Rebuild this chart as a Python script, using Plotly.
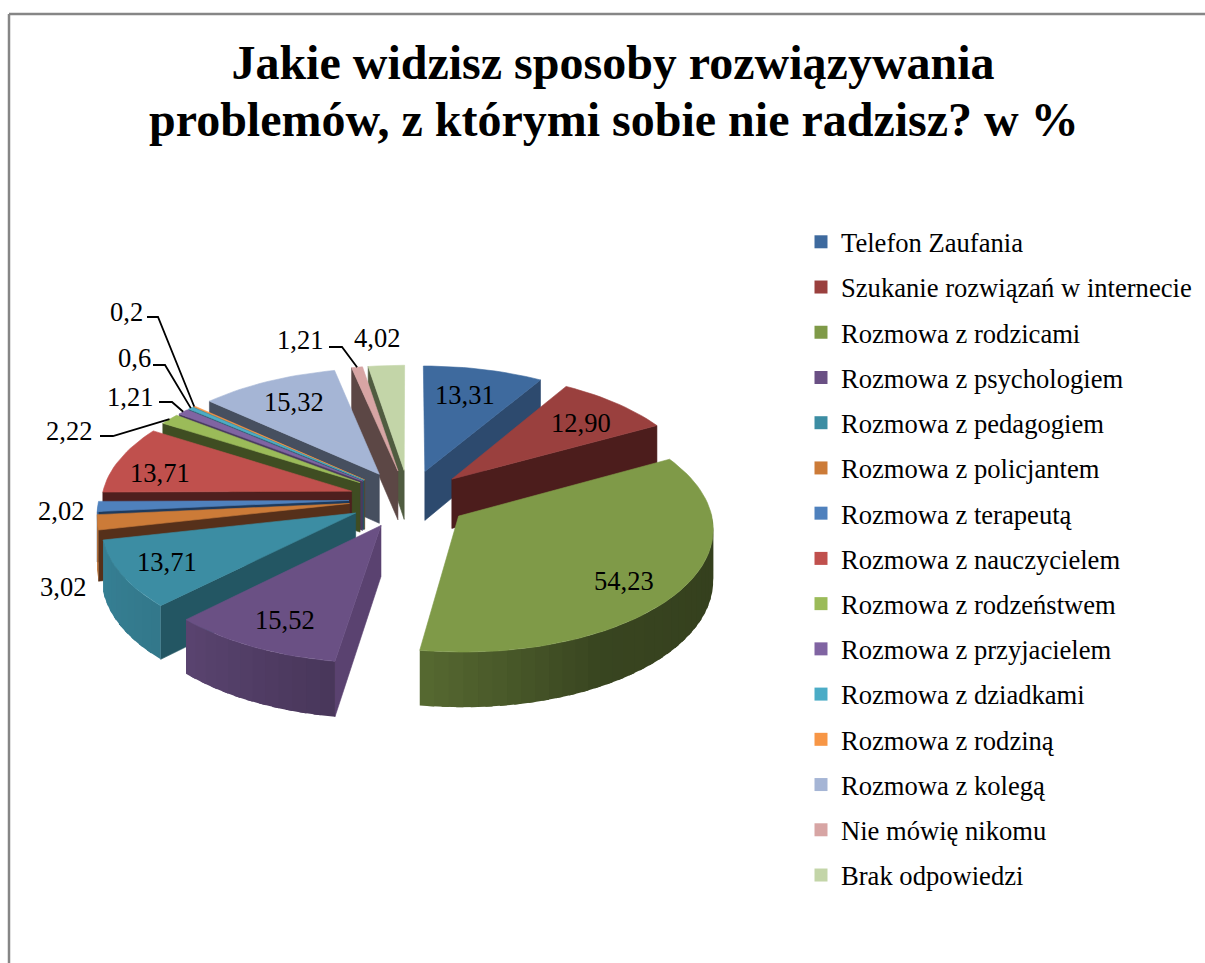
import math
import plotly.graph_objects as go

# ---- data ----
CATEGORIES = ["Telefon Zaufania", "Szukanie rozwiązań w internecie", "Rozmowa z rodzicami",
              "Rozmowa z psychologiem", "Rozmowa z pedagogiem", "Rozmowa z policjantem",
              "Rozmowa z terapeutą", "Rozmowa z nauczycielem", "Rozmowa z rodzeństwem",
              "Rozmowa z przyjacielem", "Rozmowa z dziadkami", "Rozmowa z rodziną",
              "Rozmowa z kolegą", "Nie mówię nikomu", "Brak odpowiedzi"]
VALUES = [13.31, 12.90, 54.23, 15.52, 13.71, 3.02, 2.02, 13.71, 2.22, 1.21, 0.6, 0.2, 15.32, 1.21, 4.02]
VALUE_TEXT = ["13,31", "12,90", "54,23", "15,52", "13,71", "3,02", "2,02", "13,71",
              "2,22", "1,21", "0,6", "0,2", "15,32", "1,21", "4,02"]
TITLE_LINE_1 = "Jakie widzisz sposoby rozwiązywania"
TITLE_LINE_2 = "problemów, z którymi sobie nie radzisz? w %"

# ---- styles ----
TOP_COLORS = ["#3E6A9E", "#9A403E", "#7F9A48", "#6A5084", "#3C8DA3", "#CC7B38", "#4F81BD", "#C0504D",
              "#9BBB59", "#8064A2", "#4BACC6", "#F79646", "#A5B5D5", "#D7A5A4", "#C3D5A8"]
FACE_COLORS = ["#2D4A6E", "#4C1D1C", "#34391B", "#5A4270", "#235663", "#56301A", "#1E3A5C", "#4E1F1E",
               "#3F4D22", "#4A3A60", "#235663", "#6E4318", "#464F5F", "#5C4745", "#505C40"]
# label centres in page pixels
LABEL_XY = [(465, 395), (581, 423), (624, 581), (285, 620), (167, 562), (63, 587), (61, 511), (160, 473),
            (69, 431), (130, 397), (134, 358), (126, 312), (294, 402), (300, 340), (377, 338)]
# leader-line elbows in page pixels, ending on the slice rim
LEADERS = {8: [(100, 436), (113, 436)], 9: [(159, 402), (172, 402)], 10: [(153, 365), (165, 365)],
           11: [(147, 317), (158, 317)], 13: [(329, 347), (342, 347)]}

CX, CY, R, EXPLODE, TILT, PERSP, DEPTH = 409, 499, 250, 60, 0.487, 0.0915, 50
SHADE_STOPS = [(0, .42), (110, .42), (150, .45), (188, .68), (225, .85), (260, .92), (360, .92)]


def project(X, Y, z=0.0):
    s = 1 + PERSP * Y / R
    return CX + X * s, CY + Y * TILT * s + z * DEPTH * s


def polar(theta):
    t = math.radians(theta)
    return math.sin(t), -math.cos(t)


def shade_of(theta):
    for (a, fa), (b, fb) in zip(SHADE_STOPS, SHADE_STOPS[1:]):
        if a <= theta <= b:
            return fa + (fb - fa) * (theta - a) / (b - a)
    return .9


def scaled(hexcol, f):
    r, g, b = (int(hexcol[i:i + 2], 16) for i in (1, 3, 5))
    return f"rgb({int(r * f)},{int(g * f)},{int(b * f)})"


fig = go.Figure()

# legend entries, in category order
for name, col in zip(CATEGORIES, TOP_COLORS):
    fig.add_trace(go.Scatter(x=[None], y=[None], mode="markers", name=name, legendgroup=name,
                             marker=dict(symbol="square", size=13, color=col), hoverinfo="skip"))

total = sum(VALUES)
wedges, acc = [], 0.0
for i, v in enumerate(VALUES):
    a0 = acc / total * 360
    acc += v
    a1 = acc / total * 360
    wedges.append((i, a0, a1))


def poly(pts, color, group, hover=None, width=0.6):
    fig.add_trace(go.Scatter(x=[p[0] for p in pts] + [pts[0][0]], y=[p[1] for p in pts] + [pts[0][1]],
                             mode="lines", fill="toself", fillcolor=color,
                             line=dict(color=color, width=width), legendgroup=group, showlegend=False,
                             hoverinfo="text" if hover else "skip", text=hover))


for i, a0, a1 in sorted(wedges, key=lambda w: polar((w[1] + w[2]) / 2)[1]):
    mid = (a0 + a1) / 2
    ex, ey = (EXPLODE * c for c in polar(mid))
    name = CATEGORIES[i]

    def rim(theta):
        u, w = polar(theta)
        return ex + R * u, ey + R * w

    # cut faces
    if math.sin(math.radians(a0)) < -0.001:
        X, Y = rim(a0)
        poly([project(ex, ey), project(X, Y), project(X, Y, 1), project(ex, ey, 1)], FACE_COLORS[i], name)
    if math.sin(math.radians(a1)) > 0.001:
        X, Y = rim(a1)
        poly([project(ex, ey), project(X, Y), project(X, Y, 1), project(ex, ey, 1)], FACE_COLORS[i], name)
    # outer rim, in overlapping shaded strips so no seams show
    n = max(1, int((a1 - a0) / 3))
    for k in range(n):
        t0 = a0 + (a1 - a0) * k / n
        t1 = min(a1, a0 + (a1 - a0) * (k + 1) / n + 1.5)
        if polar((t0 + t1) / 2)[1] <= 0:
            continue
        P0, P1 = rim(t0), rim(t1)
        poly([project(*P0), project(*P1), project(*P1, 1), project(*P0, 1)],
             scaled(TOP_COLORS[i], shade_of(a0 + (a1 - a0) * (k + .5) / n)), name, width=0)
    # top face
    m = max(2, int((a1 - a0) / 2))
    top = [project(ex, ey)] + [project(*rim(a0 + (a1 - a0) * k / m)) for k in range(m + 1)]
    poly(top, TOP_COLORS[i], name, hover=f"{name}: {VALUE_TEXT[i]}")

# leader lines
shapes = []
for i, elbow in LEADERS.items():
    _, a0, a1 = wedges[i]
    mid = (a0 + a1) / 2
    u, w = polar(mid)
    end = project((EXPLODE + R) * u, (EXPLODE + R) * w)
    pts = elbow + [end]
    path = "M " + " L ".join(f"{x:.1f},{y:.1f}" for x, y in pts)
    shapes.append(dict(type="path", path=path, line=dict(color="black", width=1.8), xref="x", yref="y"))

# frame
shapes.append(dict(type="line", x0=9, y0=14, x1=1205, y1=14, xref="x", yref="y", line=dict(color="#868686", width=2.5)))
shapes.append(dict(type="line", x0=9, y0=14, x1=9, y1=963, xref="x", yref="y", line=dict(color="#868686", width=2.5)))

# value labels
annotations = [dict(x=x, y=y, text=t, showarrow=False, xref="x", yref="y", xanchor="center", yanchor="middle",
                    font=dict(family="Liberation Serif", size=26.5, color="black"))
               for t, (x, y) in zip(VALUE_TEXT, LABEL_XY)]
annotations.append(dict(x=614, y=119, text=f"<b>{TITLE_LINE_2}</b>", showarrow=False, xref="x", yref="y",
                        xanchor="center", yanchor="middle",
                        font=dict(family="Liberation Serif", size=48, color="black")))

fig.update_layout(
    width=1205, height=963, margin=dict(l=0, r=0, t=0, b=0),
    paper_bgcolor="white", plot_bgcolor="white",
    title=dict(text=f"<b>{TITLE_LINE_1}</b>", x=613 / 1205, xanchor="center", y=1 - 62 / 963, yanchor="middle",
               yref="container", font=dict(family="Liberation Serif", size=48, color="black")),
    xaxis=dict(range=[0, 1205], visible=False, fixedrange=True),
    yaxis=dict(range=[963, 0], visible=False, fixedrange=True),
    legend=dict(x=801 / 1205, y=1 - 218 / 963, xanchor="left", yanchor="top", tracegroupgap=7.65,
                font=dict(family="Liberation Serif", size=26.6, color="black"), bgcolor="rgba(0,0,0,0)"),
    shapes=shapes, annotations=annotations, showlegend=True,
)
fig.write_html("out.html", config={"displayModeBar": False},
               post_script="document.body.style.margin='0';document.body.style.overflow='hidden';")
